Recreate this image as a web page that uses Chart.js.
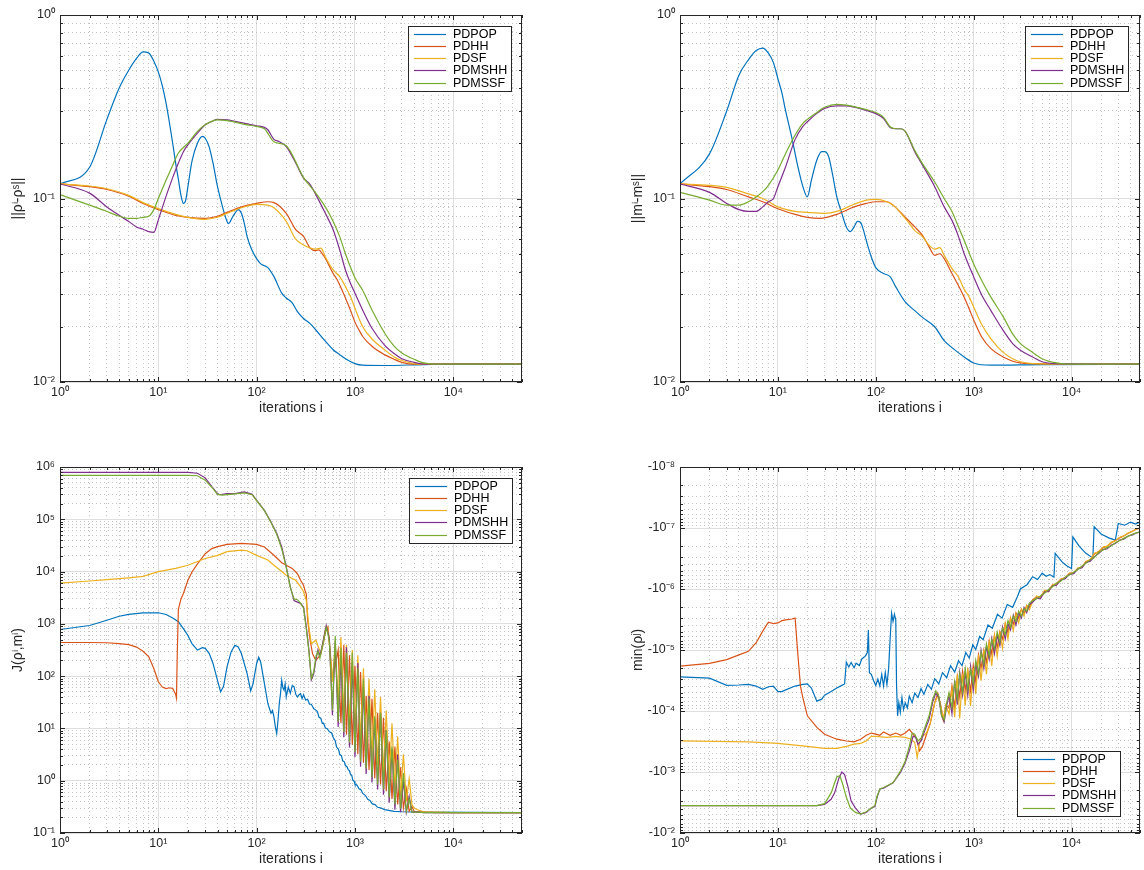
<!DOCTYPE html>
<html><head><meta charset="utf-8">
<script src="https://cdn.jsdelivr.net/npm/chart.js@4.4.1/dist/chart.umd.min.js"></script>
<style>
html,body{margin:0;padding:0;background:#fff;}
#wrap{position:relative;width:1144px;height:870px;overflow:hidden;}
canvas{position:absolute;}
</style></head><body>
<div id="wrap">
<canvas id="cTL" width="572" height="435" style="left:0;top:0;width:572px;height:435px"></canvas>
<canvas id="cTR" width="572" height="435" style="left:572px;top:0;width:572px;height:435px"></canvas>
<canvas id="cBL" width="572" height="435" style="left:0;top:435px;width:572px;height:435px"></canvas>
<canvas id="cBR" width="572" height="435" style="left:572px;top:435px;width:572px;height:435px"></canvas>
</div>
<script>
// ---------------- series names / colours ----------------
const seriesNames = ['PDPOP','PDHH','PDSF','PDMSHH','PDMSSF'];
const seriesColors = ['#0072BD','#D95319','#EDB120','#7E2F8E','#77AC30'];
const xAxisTitle = 'iterations i';
const yTitles = ['||ρⁱ-ρˢ||', '||mⁱ-mˢ||', 'J(ρⁱ,mⁱ)', 'min(ρʲ)'];

// ---------------- panel 1 : ||rho^i - rho^s||  [iteration, value] ----------------
const rhoPDPOP = [[1,0.120],[2,0.148],[3,0.27],[4,0.40],[5,0.50],[6,0.58],[7,0.63],[8,0.62],[9,0.56],[10,0.49],[11,0.41],[12,0.33],[13,0.257],[14,0.20],[15,0.156],[16,0.127],[17,0.104],[18,0.094],[19,0.098],[20,0.116],[22,0.16],[25,0.20],[28,0.218],[30,0.213],[33,0.19],[36,0.156],[40,0.116],[45,0.09],[50,0.075],[52,0.073],[56,0.078],[60,0.083],[65,0.087],[70,0.083],[75,0.073],[80,0.062],[90,0.052],[100,0.047],[110,0.044],[130,0.042],[150,0.0375],[180,0.0305],[200,0.0287],[230,0.027],[260,0.0242],[300,0.0222],[350,0.0208],[400,0.0192],[500,0.0167],[600,0.0150],[700,0.0141],[800,0.0134],[1000,0.0126],[1200,0.01235],[2000,0.0123],[5000,0.01245],[10000,0.0125],[50000,0.0125]];
const rhoPDHH = [[1,0.12],[2,0.116],[3,0.112],[5,0.103],[7,0.094],[10,0.087],[15,0.081],[20,0.079],[30,0.078],[40,0.080],[50,0.084],[70,0.090],[100,0.094],[130,0.096],[150,0.095],[200,0.083],[250,0.0676],[300,0.0621],[350,0.0537],[400,0.0520],[430,0.0525],[470,0.0495],[500,0.0472],[600,0.039],[650,0.0365],[700,0.0338],[800,0.0287],[900,0.0246],[1000,0.0212],[1100,0.0192],[1200,0.0177],[1500,0.0156],[2000,0.0141],[2500,0.0133],[3000,0.0128],[4000,0.0125],[50000,0.0125]];
const rhoPDSF = [[1,0.12],[2,0.117],[3,0.113],[5,0.104],[7,0.095],[10,0.088],[15,0.082],[20,0.079],[30,0.077],[40,0.079],[50,0.083],[70,0.089],[100,0.093],[130,0.092],[150,0.089],[200,0.075],[250,0.06],[300,0.0558],[350,0.0537],[400,0.0530],[450,0.0537],[500,0.048],[600,0.0408],[700,0.0375],[800,0.0331],[900,0.0292],[1000,0.0252],[1200,0.0200],[1500,0.0171],[2000,0.0150],[2500,0.0137],[3000,0.0131],[4000,0.0126],[5000,0.0125],[50000,0.0125]];
const rhoPDMSHH = [[1,0.12],[2,0.107],[3,0.090],[4,0.081],[5,0.075],[6,0.070],[7,0.068],[8,0.066],[9,0.0654],[10,0.0765],[12,0.103],[14,0.13],[16,0.156],[18,0.18],[20,0.196],[25,0.227],[30,0.252],[35,0.263],[40,0.270],[50,0.268],[60,0.263],[80,0.255],[100,0.249],[120,0.244],[130,0.237],[150,0.21],[170,0.204],[200,0.192],[250,0.156],[300,0.129],[350,0.119],[400,0.105],[500,0.083],[600,0.0676],[700,0.0525],[800,0.0408],[900,0.0345],[1000,0.0305],[1200,0.0246],[1500,0.0195],[2000,0.0159],[2500,0.0143],[3000,0.0134],[4000,0.0128],[5000,0.0125],[50000,0.0125]];
const rhoPDMSSF = [[1,0.105],[2,0.092],[3,0.085],[4,0.080],[5,0.078],[6,0.078],[7,0.079],[8,0.080],[9,0.087],[10,0.1],[12,0.126],[14,0.152],[16,0.177],[20,0.2],[25,0.232],[30,0.252],[40,0.268],[50,0.266],[60,0.261],[80,0.252],[100,0.247],[120,0.24],[150,0.204],[200,0.194],[300,0.13],[400,0.107],[500,0.09],[600,0.075],[700,0.062],[800,0.05],[1000,0.037],[1200,0.0315],[1500,0.0245],[2000,0.0185],[2500,0.0157],[3000,0.0144],[4000,0.0133],[5000,0.0127],[7000,0.0125],[50000,0.0125]];

// ---------------- panel 2 : ||m^i - m^s|| ----------------
const mPDPOP = [[1,0.12],[2,0.175],[3,0.30],[4,0.47],[5,0.57],[6,0.64],[7,0.66],[8,0.62],[9,0.55],[10,0.45],[11,0.375],[12,0.30],[14,0.21],[16,0.149],[18,0.116],[20,0.102],[22,0.126],[25,0.162],[28,0.18],[30,0.18],[33,0.169],[36,0.137],[40,0.102],[45,0.083],[50,0.07],[55,0.066],[60,0.07],[65,0.075],[70,0.074],[75,0.067],[80,0.059],[90,0.048],[100,0.042],[120,0.039],[140,0.0375],[160,0.033],[200,0.0273],[250,0.0245],[300,0.0225],[400,0.020],[500,0.0168],[600,0.0154],[800,0.0137],[1000,0.0127],[1500,0.01235],[5000,0.01245],[50000,0.0125]];
const mPDHH = [[1,0.12],[2,0.116],[3,0.112],[5,0.102],[7,0.096],[10,0.088],[15,0.082],[20,0.079],[27,0.078],[40,0.082],[60,0.090],[80,0.094],[100,0.096],[130,0.096],[150,0.092],[200,0.079],[250,0.07],[300,0.063],[350,0.0545],[400,0.049],[450,0.050],[500,0.047],[600,0.039],[700,0.0335],[800,0.029],[900,0.025],[1000,0.0218],[1200,0.0177],[1500,0.0152],[2000,0.0137],[3000,0.0127],[4000,0.0126],[50000,0.0125]];
const mPDSF = [[1,0.12],[2,0.118],[3,0.115],[5,0.106],[7,0.1],[10,0.09],[15,0.085],[20,0.084],[30,0.083],[40,0.085],[60,0.093],[80,0.098],[100,0.099],[130,0.096],[150,0.092],[200,0.078],[250,0.067],[300,0.062],[350,0.0557],[400,0.053],[450,0.054],[500,0.049],[600,0.0415],[700,0.0373],[800,0.032],[900,0.029],[1000,0.0256],[1200,0.0207],[1500,0.0172],[2000,0.0145],[2500,0.0134],[3000,0.0129],[4000,0.0126],[50000,0.0125]];
const mPDMSHH = [[1,0.12],[2,0.108],[3,0.094],[4,0.087],[5,0.085],[6,0.085],[7,0.09],[8,0.096],[9,0.1],[10,0.116],[12,0.149],[15,0.21],[18,0.247],[20,0.262],[25,0.291],[30,0.31],[40,0.32],[50,0.32],[60,0.315],[80,0.302],[100,0.29],[120,0.273],[140,0.244],[160,0.24],[180,0.24],[200,0.232],[250,0.18],[300,0.152],[400,0.116],[500,0.09],[600,0.076],[700,0.062],[800,0.05],[1000,0.0374],[1200,0.030],[1500,0.0245],[2000,0.0191],[2500,0.0162],[3000,0.0149],[4000,0.0137],[5000,0.0129],[7000,0.0126],[50000,0.0125]];
const mPDMSSF = [[1,0.108],[2,0.098],[3,0.092],[4,0.092],[5,0.096],[6,0.102],[7,0.109],[8,0.118],[10,0.143],[12,0.176],[15,0.222],[18,0.257],[20,0.27],[25,0.294],[30,0.314],[40,0.326],[50,0.323],[60,0.317],[80,0.305],[100,0.294],[120,0.277],[140,0.246],[160,0.24],[180,0.24],[200,0.232],[250,0.183],[300,0.155],[400,0.123],[500,0.1],[600,0.085],[700,0.07],[800,0.059],[1000,0.044],[1200,0.036],[1500,0.029],[2000,0.0227],[2500,0.0183],[3000,0.0162],[4000,0.0145],[5000,0.0134],[7000,0.0127],[10000,0.0125],[50000,0.0125]];

// ---------------- panel 3 : J(rho^i, m^i) ----------------
const jPDPOP = [[1,780],[2,930],[3,1170],[4,1400],[5,1520],[7,1620],[10,1630],[12,1510],[14,1300],[16,1100],[18,810],[20,600],[22,420],[25,315],[28,350],[30,340],[33,270],[36,175],[40,83],[43,50],[46,63],[50,150],[55,290],[60,390],[65,360],[70,270],[80,112],[87,52],[92,72],[100,175],[105,230],[110,185],[120,72],[130,30],[135,24],[140,19.5],[145,22],[150,16.6],[155,10.7],[160,8],[165,14.5],[170,30],[175,47],[180,83],[185,60],[190,54],[195,70],[200,40],[210,62],[220,47],[230,66],[240,63],[250,45],[260,40],[270,44],[280,46],[290,37],[300,44],[315,35],[330,36],[345,29],[360,29],[380,24],[400,22.4],[415,21],[430,16.5],[450,15.5],[465,12.5],[480,12.6],[500,10.2],[520,10],[550,8.6],[580,8.2],[600,6.8],[630,5.8],[650,4.4],[680,4.0],[700,3.2],[730,3.0],[750,2.4],[780,2.3],[800,1.95],[830,1.85],[850,1.65],[880,1.55],[900,1.33],[930,1.25],[950,1.02],[980,0.98],[1000,0.86],[1050,0.82],[1100,0.70],[1150,0.67],[1200,0.57],[1280,0.52],[1350,0.44],[1420,0.42],[1500,0.36],[1600,0.35],[1700,0.31],[1850,0.3],[2000,0.28],[2500,0.26],[3000,0.255],[5000,0.25],[50000,0.245]];
const jPDHH_start = [[1,440],[2,440],[3,435],[4,420],[5,400],[6,360],[7,300],[8,235],[9,140],[10,78],[11,62],[12,58],[13,60],[14,58],[15,45],[15.3,38],[15.6,300],[16,1900],[17,3000],[18,3800],[20,6800],[22,9800],[25,14000],[30,22000],[35,27500],[40,30000],[50,33000],[70,34500],[100,33000],[120,29500],[150,20500],[180,14800],[200,13200],[230,11500],[260,9100],[280,6800],[300,5500],[310,4400],[320,3700],[330,1200],[350,490],[370,270],[400,200],[430,235],[450,270],[480,450],[500,700],[530,870]];
const jPDSF_start = [[1,6000],[2,6600],[3,7000],[5,7600],[7,8100],[10,10000],[15,11500],[20,13200],[30,17800],[40,20400],[50,24000],[70,25700],[80,25000],[100,20400],[130,16600],[150,13200],[180,10000],[200,8500],[230,7400],[250,6800],[280,5100],[300,4100],[320,2800],[340,870],[360,415],[400,490],[450,270],[500,760],[530,850]];
const jPDMSHH_start = [[1,790000],[20,790000],[25,760000],[30,620000],[35,420000],[40,310000],[42,295000],[50,310000],[60,310000],[75,335000],[90,300000],[100,230000],[120,148000],[140,89000],[160,54000],[180,29500],[200,12300],[220,5100],[240,2800],[260,2600],[280,2450],[300,2100],[320,870],[340,320],[360,85],[380,110],[400,200],[420,320],[440,250],[460,350],[480,520],[510,930],[530,700]];
const jPDMSSF_start = [[1,690000],[20,690000],[25,680000],[30,560000],[35,410000],[40,300000],[45,290000],[60,305000],[75,320000],[90,295000],[100,228000],[120,146000],[140,87000],[160,52000],[180,27000],[200,12000],[220,5000],[240,3000],[260,2900],[280,2500],[300,2000],[320,800],[340,300],[360,90],[380,120],[400,230],[420,300],[440,220],[460,330],[480,480],[510,850],[530,650]];
// oscillating stretch, shared iterations
const jOscIters = [550,590,630,675,720,770,820,880,940,1000,1070,1140,1220,1300,1390,1490,1590,1700,1820,1950,2080,2230,2380,2550,2720,2910,3110,3330,3560,3800];
const jPDHH_osc   = [420,90,160,316,12.6,398,7.6,251,4.8,158,3.2,120,2.2,42,1.6,37,1.12,20,0.85,16,0.63,5.6,0.45,4.5,0.35,1.8,0.3,0.7,0.26,0.32];
const jPDSF_osc   = [400,80,400,32,560,20,400,12.6,316,8,251,5.6,141,4,89,2.8,56,2,40,1.4,22,1.0,12.6,0.7,7,0.5,3.2,0.4,1.1,0.35];
const jPDMSHH_osc = [500,17.8,468,10.7,219,6.8,355,4.3,178,2.8,178,1.86,63,1.35,42,0.93,15,0.68,20,0.54,9.3,0.38,4.0,0.28,3.2,0.25,1.0,0.25,0.5,0.25];
const jPDMSSF_osc = [450,22,589,13.5,347,8.5,282,5.4,282,3.5,141,2.3,89,1.7,37,1.17,17,0.85,20,0.68,9.3,0.48,4.5,0.35,2.5,0.29,1.4,0.26,0.45,0.25];
const jTailIters = [4000,4500,5000,7000,10000,50000];
const jPDHH_tail   = [0.26,0.25,0.25,0.245,0.245,0.245];
const jPDSF_tail   = [0.3,0.27,0.255,0.25,0.245,0.245];
const jPDMSHH_tail = [0.25,0.25,0.245,0.245,0.245,0.245];
const jPDMSSF_tail = [0.25,0.25,0.245,0.245,0.245,0.245];

// ---------------- panel 4 : min(rho^i)  (negative values) ----------------
const minPDPOP = [[1,-2.75e-5],[2,-2.9e-5],[3,-3.8e-5],[4,-3.75e-5],[5,-3.66e-5],[6,-3.9e-5],[7,-4.4e-5],[8,-4.0e-5],[9,-3.9e-5],[10,-4.8e-5],[11,-4.8e-5],[12,-4.5e-5],[15,-3.9e-5],[18,-3.66e-5],[20,-3.6e-5],[22,-4.2e-5],[25,-6.9e-5],[28,-6.4e-5],[30,-5.5e-5],[35,-4.8e-5],[40,-4.2e-5],[45,-3.8e-5],[48,-3.6e-5],[50,-1.58e-5],[53,-1.9e-5],[56,-1.6e-5],[60,-1.95e-5],[63,-1.65e-5],[68,-1.8e-5],[72,-1.4e-5],[78,-1.26e-5],[82,-1.1e-5],[84,-4.7e-6],[86,-2.35e-5],[90,-2.5e-5],[95,-3.2e-5],[100,-3.8e-5],[105,-3.0e-5],[110,-3.9e-5],[115,-2.5e-5],[120,-3.9e-5],[125,-2.35e-5],[130,-3.7e-5],[135,-2.1e-5],[140,-6.8e-6],[145,-2.5e-6],[150,-3.4e-6],[155,-2.6e-6],[160,-3.2e-6],[163,-3.9e-5],[167,-1.2e-4],[172,-7.3e-5],[178,-1.05e-4],[185,-6.0e-5],[192,-9.5e-5],[200,-7.3e-5],[210,-8.9e-5],[220,-5.7e-5],[235,-7.3e-5],[250,-5.1e-5],[270,-6.0e-5],[290,-4.3e-5],[310,-5.3e-5],[340,-3.66e-5],[370,-4.4e-5],[400,-2.95e-5],[440,-3.6e-5],[480,-2.35e-5],[530,-2.85e-5],[580,-1.8e-5],[640,-2.3e-5],[700,-1.5e-5],[760,-1.8e-5],[830,-1.1e-5],[900,-1.35e-5],[980,-8.2e-6],[1050,-9.8e-6],[1150,-6.0e-6],[1250,-6.8e-6],[1400,-3.9e-6],[1550,-4.4e-6],[1750,-2.6e-6],[1950,-3.0e-6],[2200,-1.8e-6],[2500,-2.0e-6],[2800,-1.33e-6],[3000,-1.0e-6],[3500,-8.5e-7],[4000,-6.3e-7],[4500,-7.0e-7],[5000,-5.5e-7],[5500,-6.2e-7],[6000,-5.8e-7],[6600,-6.4e-7],[6800,-2.6e-7],[8000,-3.6e-7],[9000,-4.2e-7],[10000,-4.6e-7],[10300,-1.4e-7],[12000,-2.0e-7],[14000,-2.6e-7],[16500,-3.1e-7],[17000,-9.5e-8],[20000,-1.25e-7],[24000,-1.45e-7],[28000,-1.58e-7],[30000,-8.4e-8],[35000,-9e-8],[40000,-8e-8],[45000,-8.6e-8],[50000,-7.9e-8]];
const minPDHH_start = [[1,-1.84e-5],[2,-1.66e-5],[3,-1.44e-5],[4,-1.2e-5],[5,-1.05e-5],[6,-7.6e-6],[7,-4.9e-6],[8,-3.5e-6],[9,-3.7e-6],[10,-3.6e-6],[11,-3.3e-6],[12,-3.2e-6],[14,-3.1e-6],[15,-3.0e-6],[15.5,-6e-6],[16,-1.2e-5],[17,-3.9e-5],[18,-6.1e-5],[20,-1.2e-4],[25,-1.86e-4],[30,-2.4e-4],[40,-2.9e-4],[50,-3.1e-4],[60,-3.2e-4],[70,-2.9e-4],[80,-2.5e-4],[90,-2.3e-4],[100,-2.4e-4],[110,-2.5e-4],[120,-2.2e-4],[140,-2.5e-4],[160,-2.3e-4],[180,-2.5e-4],[200,-2.3e-4],[220,-2.0e-4],[240,-2.4e-4],[260,-2.8e-4],[280,-4.5e-4],[300,-3.8e-4],[330,-2.4e-4],[360,-1.6e-4],[400,-7.3e-5],[430,-5.1e-5],[460,-8e-5],[490,-1.4e-4],[520,-8e-5]];
const minPDSF_start = [[1,-3.1e-4],[5,-3.2e-4],[10,-3.4e-4],[20,-3.8e-4],[30,-4.1e-4],[40,-4.1e-4],[50,-3.8e-4],[60,-3.5e-4],[70,-3.4e-4],[80,-3.1e-4],[90,-2.6e-4],[100,-2.6e-4],[130,-2.7e-4],[160,-2.6e-4],[200,-2.7e-4],[230,-2.9e-4],[250,-3.3e-4],[265,-5.8e-4],[280,-3.3e-4],[300,-2.6e-4],[330,-2.3e-4],[360,-1.6e-4],[400,-7.3e-5],[430,-5.7e-5],[460,-8.2e-5],[490,-1.4e-4],[520,-8e-5]];
const minPDMSHH_start = [[1,-3.56e-3],[25,-3.56e-3],[30,-3.4e-3],[35,-2.8e-3],[38,-2.2e-3],[42,-1.26e-3],[45,-1.0e-3],[48,-1.1e-3],[52,-1.75e-3],[56,-3.0e-3],[62,-3.9e-3],[70,-4.9e-3],[80,-4.6e-3],[90,-3.9e-3],[98,-3.7e-3],[103,-2.6e-3],[110,-1.9e-3],[120,-1.85e-3],[150,-1.5e-3],[180,-1.0e-3],[200,-7.0e-4],[220,-4.5e-4],[240,-2.6e-4],[255,-2.7e-4],[270,-3.5e-4],[290,-3.1e-4],[320,-2.0e-4],[350,-1.37e-4],[380,-7.3e-5],[410,-5.1e-5],[440,-6.0e-5],[470,-1.2e-4],[500,-1.5e-4],[530,-8.2e-5]];
const minPDMSSF_start = [[1,-3.56e-3],[25,-3.56e-3],[30,-3.3e-3],[35,-2.2e-3],[38,-1.5e-3],[40,-1.2e-3],[43,-1.15e-3],[46,-1.6e-3],[50,-2.6e-3],[55,-3.9e-3],[62,-4.6e-3],[70,-4.9e-3],[80,-4.5e-3],[90,-3.9e-3],[98,-3.56e-3],[103,-2.5e-3],[110,-1.9e-3],[120,-1.8e-3],[150,-1.5e-3],[180,-9.5e-4],[200,-6.6e-4],[220,-3.8e-4],[235,-2.3e-4],[250,-2.4e-4],[270,-3.1e-4],[290,-2.8e-4],[320,-1.8e-4],[350,-1.2e-4],[380,-6.5e-5],[410,-4.7e-5],[440,-5.7e-5],[470,-1.2e-4],[500,-1.4e-4],[530,-7.3e-5]];
const minOscIters = [560,600,640,680,720,770,820,870,930,990,1050,1120,1190,1270,1350,1440,1530,1630,1740,1850,1970,2100,2240,2380,2540,2700,2880,3070,3270,3480,3700];
const minPDHH_osc   = [-8.9e-5,-3.9e-5,-8.9e-5,-2.8e-5,-5.9e-5,-2.2e-5,-4.6e-5,-2.2e-5,-4.7e-5,-1.78e-5,-3.3e-5,-1.2e-5,-2.0e-5,-1.0e-5,-1.58e-5,-7.1e-6,-1.16e-5,-5.75e-6,-9.1e-6,-5.0e-6,-6.6e-6,-3.7e-6,-5.2e-6,-3.0e-6,-3.8e-6,-2.45e-6,-3.0e-6,-2.14e-6,-2.5e-6,-1.86e-6,-2.0e-6];
const minPDSF_osc   = [-1.12e-4,-4.4e-5,-1.26e-4,-2.51e-5,-1.32e-4,-2.45e-5,-8.1e-5,-1.95e-5,-8.3e-5,-2.0e-5,-5.3e-5,-1.2e-5,-3.2e-5,-1.0e-5,-2.5e-5,-7.1e-6,-1.83e-5,-5.75e-6,-1.28e-5,-5.3e-6,-9.4e-6,-3.7e-6,-6.6e-6,-3.0e-6,-4.8e-6,-2.6e-6,-3.6e-6,-2.14e-6,-2.8e-6,-1.86e-6,-2.2e-6];
const minPDMSHH_osc = [-5.6e-5,-1.1e-4,-3.16e-5,-7.9e-5,-2.34e-5,-5.5e-5,-2.3e-5,-5.5e-5,-1.86e-5,-4.5e-5,-1.66e-5,-2.7e-5,-1.02e-5,-2.0e-5,-8.8e-6,-1.42e-5,-6.5e-6,-1.15e-5,-5.7e-6,-8.4e-6,-4.2e-6,-6.6e-6,-3.7e-6,-4.7e-6,-2.7e-6,-3.9e-6,-2.46e-6,-3.0e-6,-2.0e-6,-2.45e-6,-1.8e-6];
const minPDMSSF_osc = [-5.0e-5,-8.7e-5,-3.3e-5,-6.3e-5,-2.46e-5,-4.9e-5,-2.04e-5,-4.4e-5,-2.08e-5,-3.6e-5,-1.48e-5,-2.4e-5,-1.09e-5,-1.7e-5,-7.9e-6,-1.26e-5,-6.8e-6,-9.5e-6,-5.1e-6,-7.4e-6,-4.4e-6,-5.6e-6,-3.3e-6,-4.2e-6,-2.8e-6,-3.4e-6,-2.3e-6,-2.8e-6,-2.1e-6,-2.3e-6,-1.7e-6];
const minTailIters = [4000,4400,4800,5300,5800,6400,7000,7800,8600,9500,10500,11600,12800,14000,15500,17000,19000,21000,23000,25500,28000,31000,34000,38000,42000,46000,50000];
const minPDHH_tail   = [-1.5e-6,-1.35e-6,-1.32e-6,-1.1e-6,-1.05e-6,-8.6e-7,-8.2e-7,-6.9e-7,-6.5e-7,-5.6e-7,-5.4e-7,-4.6e-7,-4.3e-7,-3.6e-7,-3.3e-7,-2.7e-7,-2.4e-7,-2.1e-7,-2.0e-7,-1.75e-7,-1.6e-7,-1.45e-7,-1.35e-7,-1.22e-7,-1.12e-7,-1.05e-7,-1.0e-7];
const minPDSF_tail   = [-1.6e-6,-1.3e-6,-1.4e-6,-1.05e-6,-1.12e-6,-8.4e-7,-8.5e-7,-6.8e-7,-6.7e-7,-5.5e-7,-5.5e-7,-4.5e-7,-4.4e-7,-3.5e-7,-3.4e-7,-2.6e-7,-2.45e-7,-2.05e-7,-2.0e-7,-1.7e-7,-1.62e-7,-1.42e-7,-1.36e-7,-1.2e-7,-1.13e-7,-1.03e-7,-1.0e-7];
const minPDMSHH_tail = [-1.65e-6,-1.41e-6,-1.45e-6,-1.12e-6,-1.1e-6,-8.9e-7,-8.7e-7,-7.1e-7,-6.8e-7,-5.75e-7,-5.6e-7,-4.7e-7,-4.5e-7,-3.7e-7,-3.5e-7,-3.0e-7,-2.6e-7,-2.24e-7,-2.2e-7,-1.9e-7,-1.8e-7,-1.58e-7,-1.52e-7,-1.35e-7,-1.3e-7,-1.2e-7,-1.17e-7];
const minPDMSSF_tail = [-1.55e-6,-1.45e-6,-1.3e-6,-1.18e-6,-1.02e-6,-9.2e-7,-8.0e-7,-7.4e-7,-6.4e-7,-5.9e-7,-5.3e-7,-4.8e-7,-4.2e-7,-3.8e-7,-3.3e-7,-3.05e-7,-2.5e-7,-2.3e-7,-2.1e-7,-1.95e-7,-1.75e-7,-1.6e-7,-1.48e-7,-1.36e-7,-1.26e-7,-1.2e-7,-1.15e-7];

// ---------------- helpers ----------------
const FONT = '"Liberation Sans", Arial, Helvetica, sans-serif';
const INK = '#262626';
const SUP = {'0':'⁰','1':'¹','2':'²','3':'³','4':'⁴','5':'⁵','6':'⁶','7':'⁷','8':'⁸','9':'⁹','-':'⁻'};
const sup = s => String(s).split('').map(c => SUP[c] || c).join('');
const isPow10 = v => v > 0 && Math.abs(Math.log10(v) - Math.round(Math.log10(v))) < 1e-6;
const zip = (xs, ys) => xs.map((x, k) => [x, ys[k]]);

function logTicks(min, max) {
  const t = [];
  for (let e = Math.floor(Math.log10(min) + 1e-9); e <= Math.ceil(Math.log10(max)); e++) {
    for (let m = 1; m < 10; m++) {
      const v = m * Math.pow(10, e);
      if (v >= min * (1 - 1e-9) && v <= max * (1 + 1e-9)) t.push({ value: v, major: m === 1 });
    }
  }
  return t;
}

function dataset(i, pts, smooth) {
  return {
    label: seriesNames[i],
    data: pts.map(p => ({ x: p[0], y: Math.abs(p[1]) })),
    borderColor: seriesColors[i],
    backgroundColor: seriesColors[i],
    borderWidth: 1.2,
    pointRadius: 0,
    pointHoverRadius: 0,
    fill: false,
    order: 4 - i,
    tension: smooth ? 0.4 : 0,
    cubicInterpolationMode: smooth ? 'monotone' : 'default'
  };
}

const gridColor = ctx => (ctx.tick && isPow10(ctx.tick.value)) ? '#dedede' : '#c4c4c4';
const gridDash = ctx => (ctx.tick && isPow10(ctx.tick.value)) ? [] : [1, 3];

function axesPlugin(legend) {
  return {
    id: 'matlabAxes',
    afterDraw(chart) {
      const { ctx, chartArea: a, scales: { x, y } } = chart;
      ctx.save();
      ctx.strokeStyle = INK;
      ctx.lineWidth = 1;
      ctx.beginPath();
      x.ticks.forEach(t => {
        const px = Math.round(x.getPixelForValue(t.value)) + 0.5;
        const L = isPow10(t.value) ? 5 : 3;
        ctx.moveTo(px, a.bottom); ctx.lineTo(px, a.bottom - L);
        ctx.moveTo(px, a.top); ctx.lineTo(px, a.top + L);
      });
      y.ticks.forEach(t => {
        const py = Math.round(y.getPixelForValue(t.value)) + 0.5;
        const L = isPow10(t.value) ? 5 : 3;
        ctx.moveTo(a.left, py); ctx.lineTo(a.left + L, py);
        ctx.moveTo(a.right, py); ctx.lineTo(a.right - L, py);
      });
      ctx.stroke();
      ctx.strokeRect(Math.round(a.left) + 0.5, Math.round(a.top) + 0.5,
                     Math.round(a.right - a.left) - 1, Math.round(a.bottom - a.top) - 1);
      // legend box
      const W = 103, H = 65, rowH = 12.3;
      const bx = Math.round(a.right - legend.right - W);
      const by = Math.round(legend.top != null ? a.top + legend.top : a.bottom - legend.bottom - H);
      ctx.fillStyle = '#fff';
      ctx.fillRect(bx, by, W, H);
      ctx.strokeStyle = INK;
      ctx.strokeRect(bx + 0.5, by + 0.5, W, H);
      ctx.font = '12.5px ' + FONT;
      ctx.textBaseline = 'middle';
      ctx.textAlign = 'left';
      chart.data.datasets.forEach((d, i) => {
        const cy = Math.round(by + 7.5 + i * rowH) + 0.5;
        ctx.strokeStyle = d.borderColor;
        ctx.lineWidth = 1.2;
        ctx.beginPath(); ctx.moveTo(bx + 6, cy); ctx.lineTo(bx + 38, cy); ctx.stroke();
        ctx.fillStyle = '#000';
        ctx.fillText(d.label, bx + 45, cy + 0.5);
      });
      ctx.restore();
    }
  };
}

function panel(id, datasets, o) {
  const expLabel = v => isPow10(v) ? (o.negative ? '-' : '') + '10' + sup(Math.round(Math.log10(v))) : '';
  return new Chart(document.getElementById(id), {
    type: 'line',
    data: { datasets },
    options: {
      responsive: false,
      animation: false,
      devicePixelRatio: 1,
      events: [],
      layout: { padding: o.pad },
      plugins: { legend: { display: false }, tooltip: { enabled: false } },
      scales: {
        x: {
          type: 'logarithmic', min: 1, max: 50000,
          afterBuildTicks: s => { s.ticks = logTicks(s.min, s.max); },
          afterFit: s => { s.height = 35; },
          ticks: { autoSkip: false, maxRotation: 0, minRotation: 0, padding: 3, color: INK,
                   font: { family: FONT, size: 12.5 }, callback: v => isPow10(v) ? '10' + sup(Math.round(Math.log10(v))) : '' },
          grid: { drawTicks: false, color: gridColor, lineWidth: 1 },
          border: { display: false, dash: gridDash },
          title: { display: true, text: xAxisTitle, color: INK, font: { family: FONT, size: 14 }, padding: { top: 2, bottom: 0 } }
        },
        y: {
          type: 'logarithmic', min: o.ymin, max: o.ymax, reverse: !!o.reverse,
          afterBuildTicks: s => { s.ticks = logTicks(s.min, s.max); },
          afterFit: s => { s.width = 60; },
          ticks: { autoSkip: false, padding: 5, color: INK, font: { family: FONT, size: 12.5 }, callback: expLabel },
          grid: { drawTicks: false, color: gridColor, lineWidth: 1 },
          border: { display: false, dash: gridDash },
          title: { display: true, text: o.ytitle, color: INK, font: { family: FONT, size: 14 }, padding: { top: 10, bottom: 0 } }
        }
      }
    },
    plugins: [axesPlugin(o.legend)]
  });
}

// ---------------- build the four panels ----------------
panel('cTL', [
  dataset(0, rhoPDPOP, true), dataset(1, rhoPDHH, true), dataset(2, rhoPDSF, true),
  dataset(3, rhoPDMSHH, true), dataset(4, rhoPDMSSF, true)
], { ymin: 0.01, ymax: 1, ytitle: yTitles[0], pad: { left: 0, top: 15, right: 50, bottom: 18 }, legend: { right: 11, top: 11 } });

panel('cTR', [
  dataset(0, mPDPOP, true), dataset(1, mPDHH, true), dataset(2, mPDSF, true),
  dataset(3, mPDMSHH, true), dataset(4, mPDMSSF, true)
], { ymin: 0.01, ymax: 1, ytitle: yTitles[1], pad: { left: 48, top: 15, right: 4, bottom: 18 }, legend: { right: 12, top: 11 } });

panel('cBL', [
  dataset(0, jPDPOP, false),
  dataset(1, jPDHH_start.concat(zip(jOscIters, jPDHH_osc), zip(jTailIters, jPDHH_tail)), false),
  dataset(2, jPDSF_start.concat(zip(jOscIters, jPDSF_osc), zip(jTailIters, jPDSF_tail)), false),
  dataset(3, jPDMSHH_start.concat(zip(jOscIters, jPDMSHH_osc), zip(jTailIters, jPDMSHH_tail)), false),
  dataset(4, jPDMSSF_start.concat(zip(jOscIters, jPDMSSF_osc), zip(jTailIters, jPDMSSF_tail)), false)
], { ymin: 0.1, ymax: 1e6, ytitle: yTitles[2], pad: { left: 0, top: 32, right: 50, bottom: 2 }, legend: { right: 10, top: 11 } });

panel('cBR', [
  dataset(0, minPDPOP, false),
  dataset(1, minPDHH_start.concat(zip(minOscIters, minPDHH_osc), zip(minTailIters, minPDHH_tail)), false),
  dataset(2, minPDSF_start.concat(zip(minOscIters, minPDSF_osc), zip(minTailIters, minPDSF_tail)), false),
  dataset(3, minPDMSHH_start.concat(zip(minOscIters, minPDMSHH_osc), zip(minTailIters, minPDMSHH_tail)), false),
  dataset(4, minPDMSSF_start.concat(zip(minOscIters, minPDMSSF_osc), zip(minTailIters, minPDMSSF_tail)), false)
], { ymin: 1e-8, ymax: 1e-2, reverse: true, negative: true, ytitle: yTitles[3], pad: { left: 48, top: 32, right: 4, bottom: 2 }, legend: { right: 20, bottom: 17 } });
</script>
</body></html>
